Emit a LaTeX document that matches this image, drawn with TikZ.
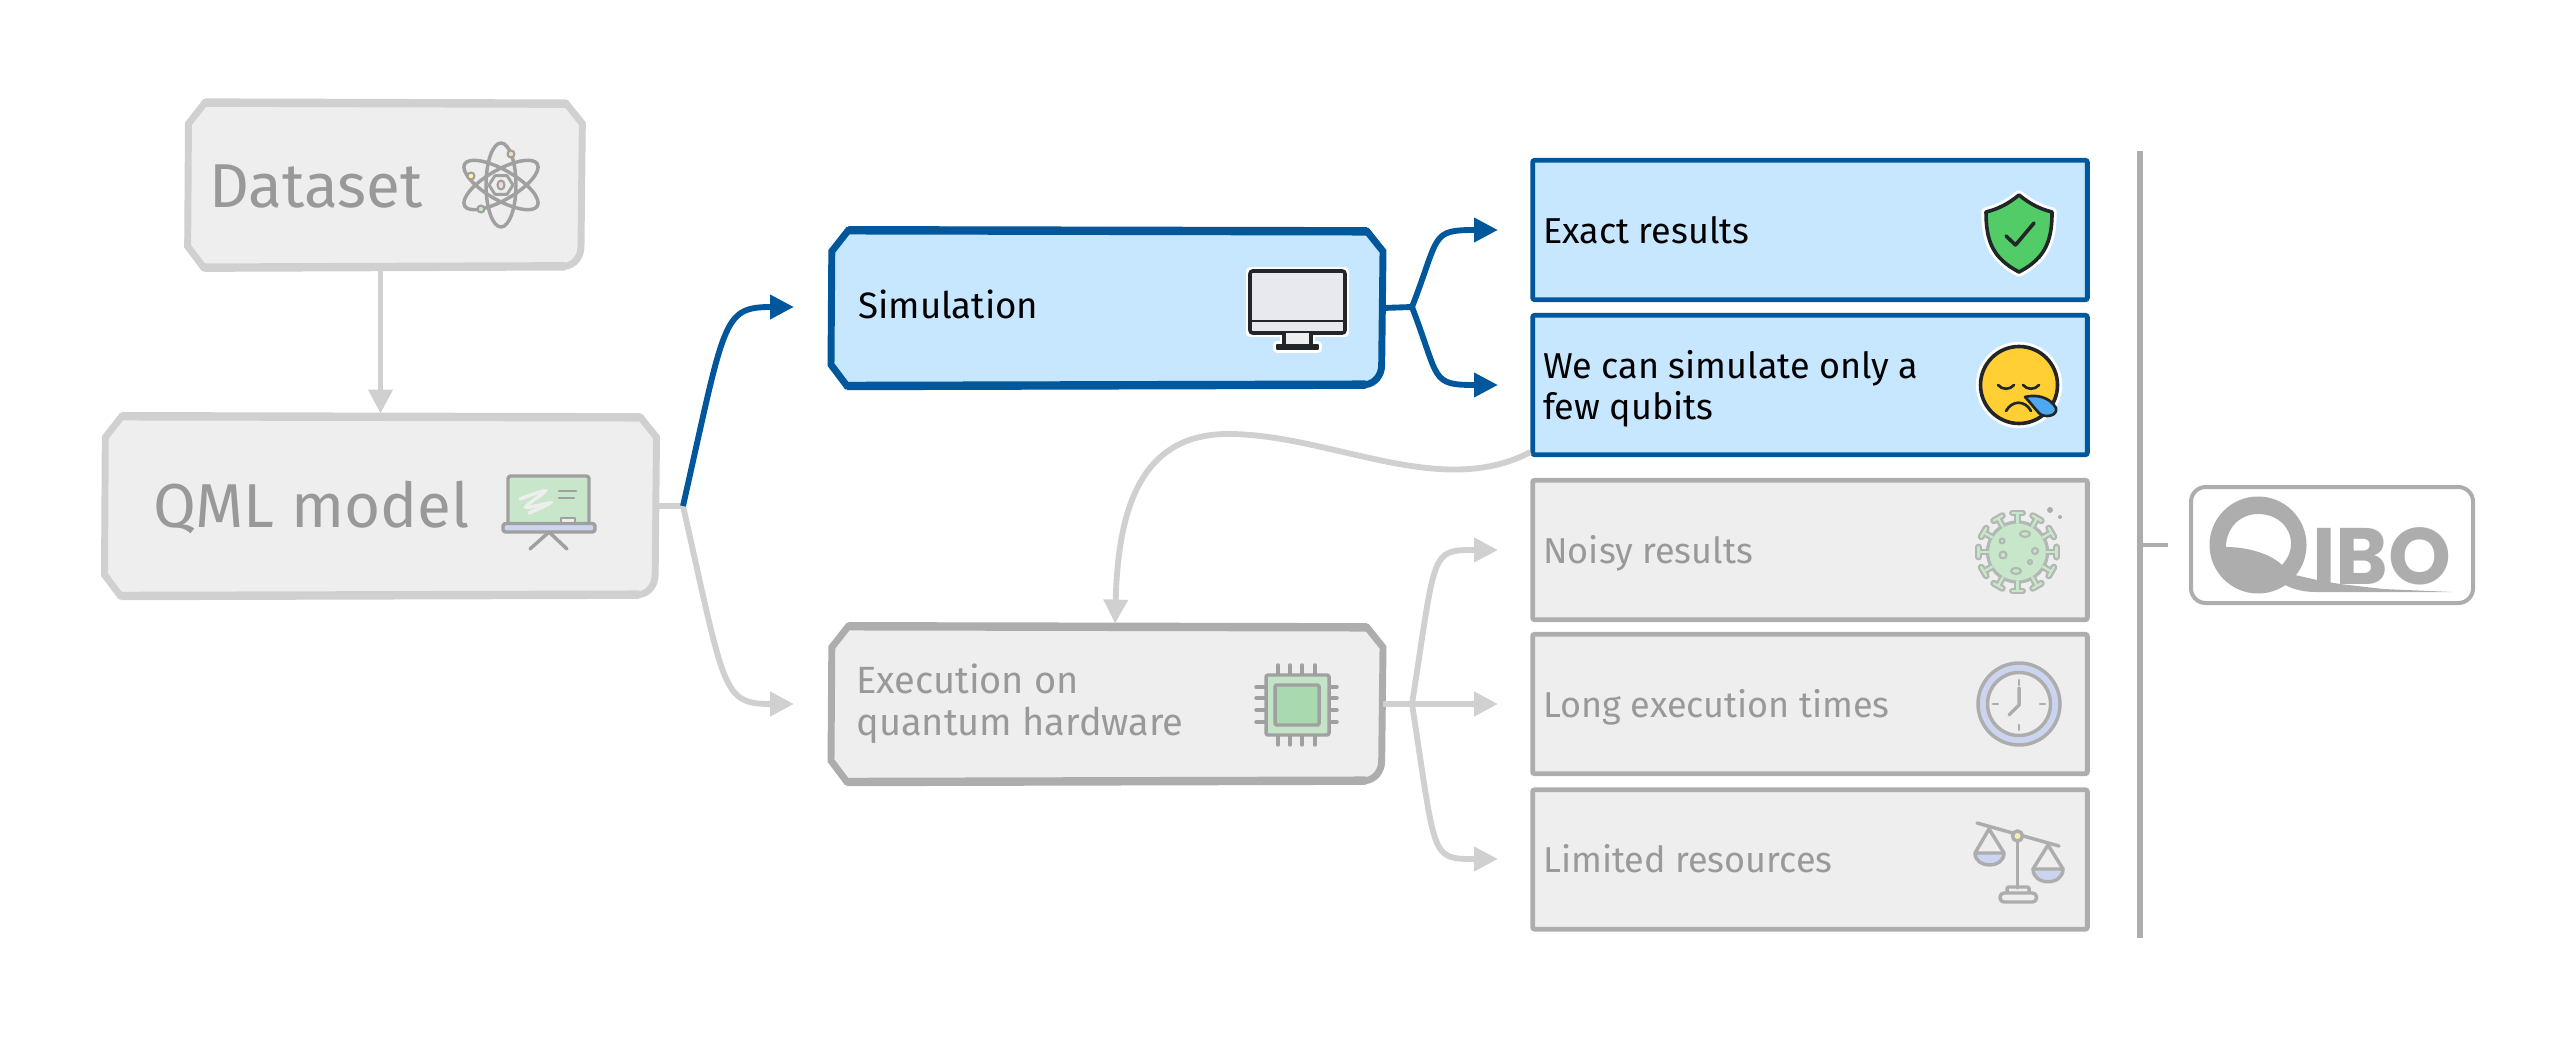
\documentclass[tikz,border=0pt]{standalone}
\usepackage{fontspec}
\setmainfont{Fira Sans}
\newfontfamily\logofont{Poppins}
\usetikzlibrary{arrows.meta}

\definecolor{softline}{HTML}{D0D0D0}
\definecolor{hardline}{HTML}{ADADAD}
\definecolor{softfill}{HTML}{EEEEEE}
\definecolor{softtext}{HTML}{999999}
\definecolor{iconline}{HTML}{A0A0A0}
\definecolor{simblue}{HTML}{01579B}
\definecolor{simfill}{HTML}{C6E7FF}
\definecolor{inkdark}{HTML}{232629}
\definecolor{boardgreen}{HTML}{C8E6C9}
\definecolor{chipgreen}{HTML}{A9D9AE}
\definecolor{paleblue}{HTML}{CCD5F0}
\definecolor{shieldgreen}{HTML}{52CC66}
\definecolor{faceyellow}{HTML}{FFCF33}
\definecolor{dropblue}{HTML}{4DA8F0}

\tikzset{
  softbox/.style={rectangle,inner sep=0pt,outer sep=0pt},
  softbig/.style={draw=softline,fill=softfill},
  softstep/.style={draw=hardline,fill=softfill},
  bluestep/.style={draw=simblue,fill=simfill},
  resultbox/.style={draw=hardline,fill=softfill,line width=3.6pt,rounded corners=1.5pt,minimum width=416pt,minimum height=104.5pt,inner sep=0pt},
  blueresult/.style={resultbox,draw=simblue,fill=simfill},
  bigtext/.style={anchor=base west,inner sep=0pt,text=softtext,font=\fontsize{46.5}{52}\selectfont},
  smalltext/.style={anchor=base west,inner sep=0pt,text=softtext,font=\fontsize{27}{31}\selectfont},
  midtext/.style={smalltext,font=\fontsize{28.5}{31.5}\selectfont},
  blacktext/.style={smalltext,text=black},
  softarrow/.style={draw=softline,line width=4.4pt,-{Triangle[length=18pt,width=17.5pt]}},
  softstub/.style={draw=softline,line width=4.4pt},
  bluearrow/.style={draw=simblue,line width=4.4pt,-{Triangle[length=18pt,width=17.5pt]}},
  bluestub/.style={draw=simblue,line width=4.4pt},
  softicon/.style={draw=iconline,line width=2.6pt,line join=round,line cap=round},
  darkicon/.style={draw=inkdark,line width=2.7pt,line join=round,line cap=round},
}

% hand drawn outline round a named node (yshift runs down the page here)
\newcommand{\sketchbox}[2]{%
  \draw [#2,line width=5.2pt,miter limit=4]
    ([xshift=13pt,yshift=-0.8pt]#1.north west) -- ([xshift=-12pt]#1.north east)
    -- ([yshift=15pt]#1.north east) -- ([yshift=-15pt,xshift=-1pt]#1.south east)
    .. controls ([yshift=-7pt,xshift=-1pt]#1.south east) and ([xshift=-6pt,yshift=-1pt]#1.south east) .. ([xshift=-13pt]#1.south east)
    -- ([xshift=12pt,yshift=1pt]#1.south west) -- ([yshift=-15pt]#1.south west)
    -- ([yshift=15pt,xshift=0.6pt]#1.north west) -- cycle;
  \draw [#2,line width=6.3pt]
    ([xshift=13pt,yshift=-0.8pt]#1.north west) -- ([xshift=-12pt]#1.north east)
    ([xshift=12pt,yshift=1pt]#1.south west) -- ([xshift=-13pt]#1.south east);
}

\begin{document}
\begin{tikzpicture}[x=0.75pt,y=0.75pt,yscale=-1]
  \useasboundingbox (0,0) rectangle (2576,1044);

  % Left boxes
  \node (dataset) [softbox,minimum width=296pt,minimum height=122pt] at (385,185) {};
  \sketchbox{dataset}{softbig}
  \node (qml) [softbox,minimum width=414pt,minimum height=133pt] at (380.5,506) {};
  \sketchbox{qml}{softbig}
  % Middle boxes
  \node (sim) [softbox,minimum width=414pt,minimum height=115pt] at (1107,308) {};
  \sketchbox{sim}{bluestep}
  \node (exec) [softbox,minimum width=414pt,minimum height=115pt] at (1107,704) {};
  \sketchbox{exec}{softstep}
  % Result boxes
  \node (exact) [blueresult] at (1810,230) {};
  \node (few) [blueresult] at (1810,385) {};
  \node (noisy) [resultbox] at (1810,550) {};
  \node (longtime) [resultbox] at (1810,704) {};
  \node (limited) [resultbox] at (1810,859.5) {};

  % Text Node
  \node (datasettext) [bigtext] at (209,207.5) {Dataset};
  \node (qmltext) [bigtext] at (153,527.5) {QML model};
  \node (simtext) [blacktext,font=\fontsize{27.5}{31}\selectfont] at (858,319) {Simulation};
  \node (exectext) [midtext,anchor=west,align=left] at (856,704) {Execution on\\quantum hardware};
  \node (exacttext) [blacktext] at (1543,244) {Exact results};
  \node (fewtext) [blacktext,anchor=west,align=left] at (1543,389) {We can simulate only a\\few qubits};
  \node (noisytext) [smalltext] at (1543,563) {Noisy results};
  \node (longtext) [smalltext] at (1543,717) {Long execution times};
  \node (limitedtext) [smalltext] at (1543,872) {Limited resources};

  % Connector ends
  \coordinate (qmlfork) at (683,506);
  \coordinate (simin) at (794,307);
  \coordinate (execin) at (794,704);
  \coordinate (simfork) at (1412,307);
  \coordinate (exactin) at (1498,230);
  \coordinate (fewin) at (1498,385);
  \coordinate (execfork) at (1412,704);
  \coordinate (noisyin) at (1498,550);
  \coordinate (longin) at (1498,704);
  \coordinate (limitedin) at (1498,859);
  \coordinate (fewbend) at (1228,434);

  % Connectors
  \draw [softarrow,shorten >=2.8pt] (dataset.south -| qml.north) -- (qml.north);
  \draw [softstub] (qml.east) -- (qmlfork);
  \draw [softarrow] (qmlfork) .. controls (725,692) and (722,704) .. (execin);
  \draw [bluearrow] (qmlfork) .. controls (725,320) and (722,307) .. (simin);
  \draw [bluestub] (sim.east) -- (simfork);
  \draw [bluearrow] (simfork) .. controls (1440,235) and (1430,230) .. (exactin);
  \draw [bluearrow] (simfork) .. controls (1440,380) and (1430,385) .. (fewin);
  \draw [softstub] (exec.east) -- (execfork);
  \draw [softarrow] (execfork) -- (longin);
  \draw [softarrow] (execfork) .. controls (1436,550) and (1430,550) .. (noisyin);
  \draw [softarrow] (execfork) .. controls (1436,859) and (1430,859) .. (limitedin);
  \draw [softstub] ([yshift=-3.75pt]few.south west) .. controls (1440,500) and (1330,434) .. (fewbend);
  \draw [softarrow,shorten >=2.8pt] (fewbend) .. controls (1140,434) and (1118,510) .. (exec.north -| 1115,0);

  % Atom
  \foreach \a in {0,60,120}
    \draw [softicon,rotate around={\a:(501,185)}] (501,185) ellipse [x radius=15,y radius=42];
  \draw [softicon,line width=2.2pt] (513,185) -- (507,175.6) -- (495,175.6) -- (489,185) -- (495,194.4) -- (507,194.4) -- cycle;
  \draw [softicon,line width=1.6pt,fill=pink!60] (501,185) ellipse [x radius=3.5,y radius=4.5];
  \draw [softicon,line width=1.6pt,fill=orange!30] (511,154) circle [radius=3.5];
  \draw [softicon,line width=1.6pt,fill=yellow!40] (471,176) circle [radius=3.5];
  \draw [softicon,line width=1.6pt,fill=boardgreen] (481,209) circle [radius=3.5];

  % Chalkboard
  \draw [softicon,fill=boardgreen,rounded corners=2pt] (508,525) -- (508,476) -- (589,476) -- (589,525);
  \draw [draw=softfill,line width=2.6pt,line cap=round] plot [smooth,tension=0.6] coordinates {(520,499) (545,491) (526,507) (550,503) (529,513)};
  \draw [softicon,line width=2pt] (559,491) -- (576,491) (559,498) -- (574,498);
  \draw [softicon,line width=2pt,fill=softfill] (561,524) -- (561,518) -- (575,518) -- (575,524);
  \draw [softicon,fill=paleblue,rounded corners=2pt] (503,523.5) rectangle (595,532);
  \draw [softicon] (530,549) -- (549,532) -- (567,549);

  % Monitor
  \draw [draw=white,line width=5.5pt,line join=round] (1250,271) rectangle (1345,333) (1284,333) rectangle (1311,347) (1277,345) rectangle (1318,349);
  \draw [darkicon,fill=softfill!80!paleblue,rounded corners=2pt] (1250,271) rectangle (1345,333);
  \draw [darkicon,line width=2pt] (1250,321) -- (1345,321);
  \draw [darkicon,fill=softfill] (1284,333) -- (1284,347) -- (1311,347) -- (1311,333);
  \draw [darkicon,fill=inkdark,line width=1pt] (1277,345) rectangle (1318,349);

  % Chip
  \foreach \p in {1278,1290,1302,1315}
    \draw [softicon] (\p,665) -- (\p,745);
  \foreach \p in {687,698,710,722}
    \draw [softicon] (1256,\p) -- (1337,\p);
  \draw [softicon,fill=chipgreen!70!white,rounded corners=1.5pt] (1266,675) rectangle (1329,735);
  \draw [softicon,fill=chipgreen,rounded corners=1pt] (1275,685) rectangle (1319,725);

  % Shield
  \draw [darkicon,draw=white,line width=7pt] (2019,195) .. controls (2008,204) and (1998,209) .. (1986,212) .. controls (1986,240) and (1992,258) .. (2019,272) .. controls (2046,258) and (2052,240) .. (2052,212) .. controls (2040,209) and (2030,204) .. (2019,195) -- cycle;
  \draw [darkicon,fill=shieldgreen] (2019,195) .. controls (2008,204) and (1998,209) .. (1986,212) .. controls (1986,240) and (1992,258) .. (2019,272) .. controls (2046,258) and (2052,240) .. (2052,212) .. controls (2040,209) and (2030,204) .. (2019,195) -- cycle;
  \draw [darkicon] (2006,236) -- (2015.5,245) -- (2034,223);

  % Sad face
  \draw [darkicon,draw=white,line width=7pt] (2019,385) circle [radius=38.5];
  \draw [darkicon,fill=faceyellow] (2019,385) circle [radius=38.5];
  \draw [darkicon,line width=2pt] (1998,385) .. controls (2002,390) and (2010,390) .. (2014,385);
  \draw [darkicon,line width=2pt] (2023,385) .. controls (2027,390) and (2035,390) .. (2039,385);
  \draw [darkicon,line width=2pt] (2006,411) .. controls (2012,400) and (2025,400) .. (2031,411);
  \draw [darkicon,fill=dropblue,line width=2pt] (2025,397) .. controls (2036,394) and (2050,397) .. (2056,408) .. controls (2058,416) and (2045,418) .. (2040,414) .. controls (2034,408) and (2030,402) .. (2025,397) -- cycle;

  % Virus
  \foreach \a in {0,30,...,330}
    \draw [draw=hardline!80!boardgreen,line width=5.2pt,line cap=round,rotate around={\a:(2017.5,552)}] (2017.5,522) -- (2017.5,514) (2012.5,513) -- (2022.5,513);
  \draw [draw=hardline!80!boardgreen,line width=2.4pt,fill=boardgreen] (2017.5,552) circle [radius=30];
  \foreach \a in {0,30,...,330}
    \draw [draw=boardgreen,line width=1.8pt,line cap=round,rotate around={\a:(2017.5,552)}] (2017.5,523) -- (2017.5,514) (2012.5,513) -- (2022.5,513);
  \draw [softicon,draw=hardline!80!boardgreen,line width=1.6pt] (2003,555) circle [radius=3.5] (2025,534) ellipse [x radius=5,y radius=3] (2035,551) circle [radius=3] (2016,571) ellipse [x radius=5,y radius=3] (2002,541) circle [radius=2.5] (2030,562) circle [radius=2];
  \fill [hardline] (2050,510) circle [radius=3] (2060,517) circle [radius=2];

  % Clock
  \draw [softicon,draw=hardline,fill=paleblue] (2019,704) circle [radius=41];
  \draw [softicon,draw=hardline,fill=softfill] (2019,704) circle [radius=31.5];
  \draw [softicon,draw=hardline,line width=1.8pt] (2019,680) -- (2019,685) (2019,725) -- (2019,730) (1993,704) -- (1998,704) (2040,704) -- (2045,704);
  \draw [softicon,draw=hardline] (2019,688) -- (2019,705) -- (2009,715);

  % Scales
  \draw [softicon,draw=hardline] (2017.5,836) -- (2017.5,888);
  \draw [softicon,draw=hardline,rounded corners=1pt] (2007,892) -- (2007,887) -- (2029,887) -- (2029,892);
  \draw [softicon,draw=hardline,rounded corners=3pt] (2000,893) rectangle (2036.5,902);
  \draw [softicon,draw=hardline] (1977,823) -- (2059,846);
  \draw [softicon,draw=hardline] (1975,853) -- (1989,829) -- (2004,853);
  \draw [softicon,draw=hardline] (2033,869) -- (2048,845) -- (2063,869);
  \draw [softicon,draw=hardline,fill=paleblue] (1975,853) -- (2004,853) .. controls (2004,869) and (1975,869) .. (1975,853) -- cycle;
  \draw [softicon,draw=hardline,fill=paleblue] (2033,869) -- (2063,869) .. controls (2063,886) and (2033,886) .. (2033,869) -- cycle;
  \draw [softicon,draw=hardline,fill=yellow!30!softfill] (2017.5,836) circle [radius=5];

  % Vertical bar and logo
  \coordinate (bartop) at (2140,151);
  \coordinate (barbottom) at (2140,938);
  \coordinate (barjoint) at (2140,545);
  \coordinate (barstub) at (2168,545);
  \draw [draw=hardline,line width=4.5pt] (bartop) -- (barbottom);
  \draw [draw=hardline,line width=3.4pt] (barjoint) -- (barstub);
  \node (qibo) [draw=hardline,line width=3pt,rounded corners=11pt,minimum width=211.5pt,minimum height=87pt,inner sep=0pt] at (2332,545) {};

  % Logo letters
  \fill [hardline,even odd rule] (2258,545) circle [radius=48.5] (2226,547) .. controls (2226,528) and (2240,514) .. (2258,514) .. controls (2278,514) and (2291,528) .. (2291,543) .. controls (2291,552) and (2288,558) .. (2282,565) .. controls (2272,555) and (2250,547) .. (2226,547) -- cycle;
  \fill [hardline] (2285,585) .. controls (2295,590) and (2305,592) .. (2315,592) -- (2453,592) -- (2383,589) -- (2340,584) -- (2317,580) -- (2295,575) -- cycle;
  \node (qibotext) [anchor=base west,inner sep=0pt,text=hardline,font=\logofont\bfseries\fontsize{60}{60}\selectfont] at (2312,584) {IBO};
\end{tikzpicture}
\end{document}
